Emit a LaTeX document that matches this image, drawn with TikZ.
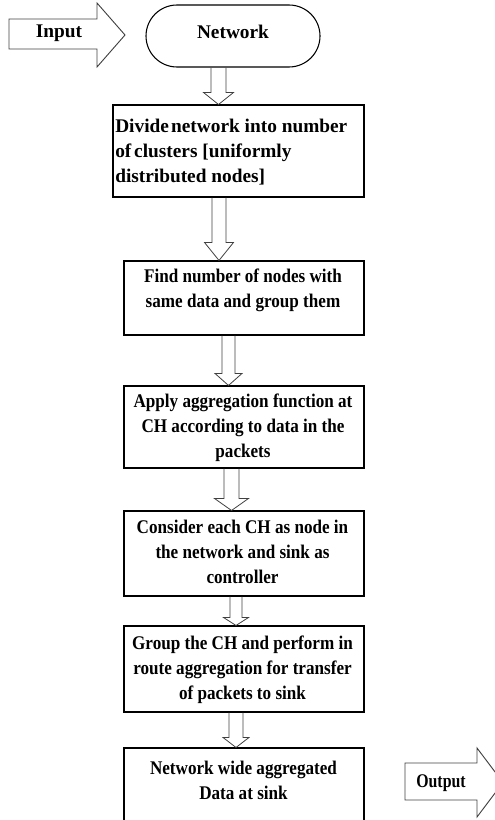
\documentclass[tikz,border=0pt]{standalone}
\usepackage{fontspec}
\setmainfont{Liberation Serif}
\newfontfamily\condfont[FakeStretch=0.885]{Liberation Serif}
\newfontfamily\outfont[FakeStretch=0.82]{Liberation Serif}
\usetikzlibrary{calc,shapes.misc}
% #1 from node, #2 to node, #3 centre x (px), #4 shaft half width, #5 head half width, #6 head length
\newcommand\blockdown[6]{%
  \draw[blk] let \p1=(#1.south), \p2=(#2.north) in
    ({(#3-#4)*0.75pt},\y1) -- ({(#3-#4)*0.75pt},{\y2+#6*0.75pt})
    -- ({(#3-#5)*0.75pt},{\y2+#6*0.75pt}) -- ({#3*0.75pt},\y2)
    -- ({(#3+#5)*0.75pt},{\y2+#6*0.75pt}) -- ({(#3+#4)*0.75pt},{\y2+#6*0.75pt})
    -- ({(#3+#4)*0.75pt},\y1);}
\begin{document}
\begin{tikzpicture}[x=0.75pt,y=-0.75pt,
  box/.style={draw=black, line width=0.8pt, rectangle, inner sep=0pt},
  startbox/.style={draw=black, line width=0.8pt, rounded rectangle, inner sep=0pt,
    minimum width=130.5pt, minimum height=46.5pt},
  txt/.style={inner sep=0pt, font=\fontsize{14.5}{18.75}\selectfont\bfseries, align=center},
  ctxt/.style={txt, font=\condfont\fontsize{14.5}{18.75}\selectfont\bfseries},
  otxt/.style={txt, font=\outfont\fontsize{14.5}{18.75}\selectfont\bfseries},
  blk/.style={draw=black!75, line width=0.6pt, line join=miter},
  bigarrow/.style={draw=black!75, line width=0.7pt, line join=miter}]
\clip (0,0) rectangle (495,820);
% boxes
\node[startbox] (net) at (233,36) {};
\node[box, minimum width=188.25pt, minimum height=69pt] (b1) at (238.5,151) {};
\node[box, minimum width=180pt, minimum height=55.5pt] (b2) at (244,298) {};
\node[box, minimum width=180pt, minimum height=61.5pt] (b3) at (244,427) {};
\node[box, minimum width=180pt, minimum height=63.75pt] (b4) at (244,553.5) {};
\node[box, minimum width=180pt, minimum height=64.5pt] (b5) at (244,669) {};
\node[box, minimum width=180pt, minimum height=69pt] (b6) at (244,794) {};
% texts
\node[txt] (tnet) at (233,32) {Network};
\node[txt, anchor=west, align=left] (t1) at (115,152) {Divide\hspace{-2pt} network into number\\of\hspace{-1.5pt} clusters [uniformly\\distributed nodes]};
\node[ctxt] (t2) at (243,290) {Find number of nodes with\\same data and group them};
\node[ctxt] (t3) at (243,428) {Apply aggregation function at\\CH according to data in the\\packets};
\node[ctxt] (t4) at (242.5,552) {Consider each CH as node in\\the network and sink as\\controller};
\node[ctxt] (t5) at (242.5,670) {Group the CH and perform in\\route aggregation for transfer\\of packets to sink};
\node[ctxt] (t6) at (243.5,780) {Network wide aggregated\\Data at sink};
% input / output arrows
\draw[bigarrow] (9,19) -- (97,19) -- (97,3) -- (125,35) -- (97,67) -- (97,49) -- (9,49) -- cycle;
\node[txt] (tin) at (59,33) {Input};
\draw[bigarrow] (405,763) -- (477,763) -- (477,748) -- (503,782.5) -- (477,817) -- (477,800) -- (405,800) -- cycle;
\node[otxt] (tout) at (441,783) {Output};
% block connectors
\blockdown{net}{b1}{218.5}{7.5}{15}{12}
\blockdown{b1}{b2}{219}{7}{14.5}{18}
\blockdown{b2}{b3}{228.5}{6.5}{13.5}{12}
\blockdown{b3}{b4}{231.5}{7.5}{17}{12}
\blockdown{b4}{b5}{236}{6}{12.5}{8}
\blockdown{b5}{b6}{236}{7}{13}{10}
\end{tikzpicture}
\end{document}
